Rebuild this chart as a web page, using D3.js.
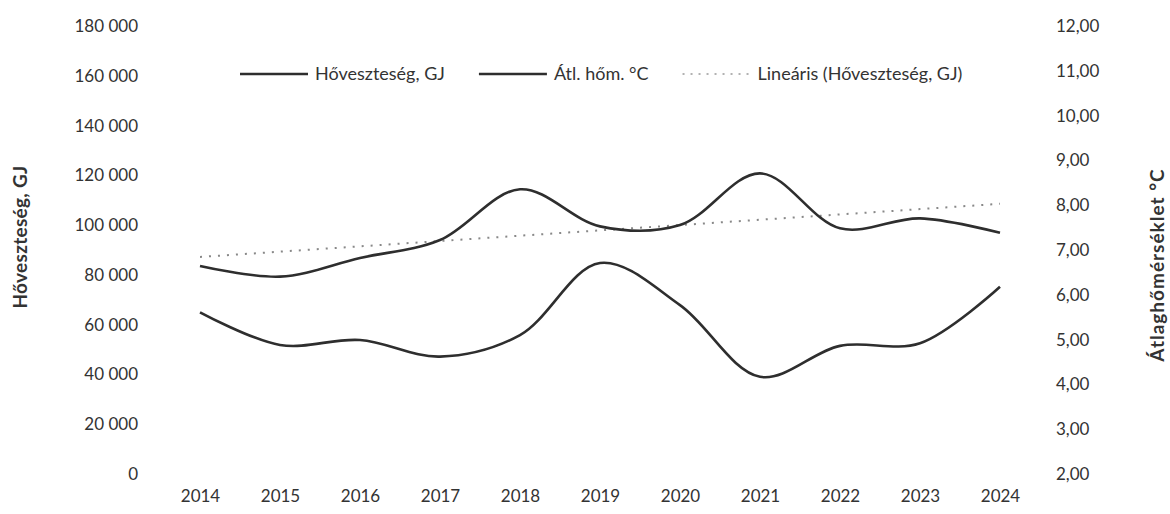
<!DOCTYPE html>
<html>
<head>
<meta charset="utf-8">
<script src="https://d3js.org/d3.v7.min.js"></script>
<style>
	body { margin: 0; background: #fff; }
	text { font-family: Lato, "Open Sans", sans-serif; fill: #333; }
</style>
</head>
<body>
<div id="vis"></div>
<script>
// Data
var years = ["2014", "2015", "2016", "2017", "2018", "2019", "2020", "2021", "2022", "2023", "2024"];
var heatLoss = [83600, 79300, 86800, 94000, 114400, 99500, 100000, 120800, 98700, 102700, 96900];
var avgTemp = [5.61, 4.88, 4.99, 4.62, 5.10, 6.71, 5.77, 4.17, 4.86, 4.92, 6.18];
var leftTicks = [0, 20000, 40000, 60000, 80000, 100000, 120000, 140000, 160000, 180000];
var rightTicks = [2, 3, 4, 5, 6, 7, 8, 9, 10, 11, 12];
var legendNames = ["Hőveszteség, GJ", "Átl. hőm. °C", "Lineáris (Hőveszteség, GJ)"];

// Layout Settings
var width = 1170,
	height = 514;
var plotTop = 26, plotBottom = 474;

var svg = d3.select("#vis")
			.append("svg")
			.attr("width", width)
			.attr("height", height);

var x = d3.scalePoint()
		  .domain(years)
		  .range([200, 1000]);

var yLeft = d3.scaleLinear()
			  .domain([0, 180000])
			  .range([plotBottom, plotTop]);

var yRight = d3.scaleLinear()
			   .domain([2, 12])
			   .range([plotBottom, plotTop]);

// number formats like the hungarian excel: "180 000" and "12,00"
var fmtLeft = function(d) { return d3.format(",")(d).replace(/,/g, " "); };
var fmtRight = function(d) { return d3.format(".2f")(d).replace(".", ","); };

//// Axes (labels only, no lines) ////
svg.append("g")
   .attr("transform", "translate(138,0)")
   .call(d3.axisLeft(yLeft).tickValues(leftTicks).tickFormat(fmtLeft).tickSize(0).tickPadding(0));

svg.append("g")
   .attr("transform", "translate(1056,0)")
   .call(d3.axisRight(yRight).tickValues(rightTicks).tickFormat(fmtRight).tickSize(0).tickPadding(0));

svg.append("g")
   .attr("transform", "translate(0," + (plotBottom + 16) + ")")
   .call(d3.axisBottom(x).tickSize(0).tickPadding(0));

svg.selectAll(".domain").remove();
svg.selectAll(".tick text")
   .style("font-family", "Lato, 'Open Sans', sans-serif")
   .style("font-size", "17px")
   .style("fill", "#333");

// axis titles
svg.append("text")
   .attr("transform", "translate(27,237) rotate(-90)")
   .attr("text-anchor", "middle")
   .style("font-size", "19px")
   .style("font-weight", "bold")
   .style("letter-spacing", "0.3px")
   .text("Hőveszteség, GJ");

svg.append("text")
   .attr("transform", "translate(1164,265) rotate(-90)")
   .attr("text-anchor", "middle")
   .style("font-size", "19px")
   .style("font-weight", "bold")
   .style("letter-spacing", "1px")
   .text("Átlaghőmérséklet °C");

//// Lines ////
var heatLine = d3.line()
				 .x(function(d, i) { return x(years[i]); })
				 .y(function(d) { return yLeft(d); })
				 .curve(d3.curveCatmullRom);

var tempLine = d3.line()
				 .x(function(d, i) { return x(years[i]); })
				 .y(function(d) { return yRight(d); })
				 .curve(d3.curveCatmullRom);

// linear trend of heat loss (least squares, like the excel trendline)
var idx = d3.range(years.length);
var mx = d3.mean(idx), my = d3.mean(heatLoss);
var slope = d3.sum(idx, function(i) { return (i - mx) * (heatLoss[i] - my); }) /
			d3.sum(idx, function(i) { return (i - mx) * (i - mx); });
var trend = idx.map(function(i) { return my + slope * (i - mx); });

svg.append("path")
   .datum(trend)
   .attr("d", d3.line()
			 .x(function(d, i) { return x(years[i]); })
			 .y(function(d) { return yLeft(d); }))
   .attr("fill", "none")
   .attr("stroke", "#888")
   .attr("stroke-width", 2)
   .attr("stroke-dasharray", "2 7");

svg.append("path")
   .datum(heatLoss)
   .attr("d", heatLine)
   .attr("fill", "none")
   .attr("stroke", "#2e2e2e")
   .attr("stroke-width", 2.6);

svg.append("path")
   .datum(avgTemp)
   .attr("d", tempLine)
   .attr("fill", "none")
   .attr("stroke", "#2e2e2e")
   .attr("stroke-width", 2.6);

//// Legend ////
var legend = svg.append("g")
				.attr("transform", "translate(240,74)");

var lx = 0;
legendNames.forEach(function(name, i) {
	var item = legend.append("g")
					 .attr("transform", "translate(" + lx + ",0)");
	item.append("line")
		.attr("x1", 0)
		.attr("x2", 68)
		.attr("stroke", i == 2 ? "#999" : "#2e2e2e")
		.attr("stroke-width", i == 2 ? 1.6 : 2.6)
		.attr("stroke-dasharray", i == 2 ? "2 6" : null);
	var t = item.append("text")
				.attr("x", 75)
				.attr("dy", "0.35em")
				.style("font-size", "18px")
				.text(name);
	lx += 75 + t.node().getComputedTextLength() + 34;
});
</script>
</body>
</html>
